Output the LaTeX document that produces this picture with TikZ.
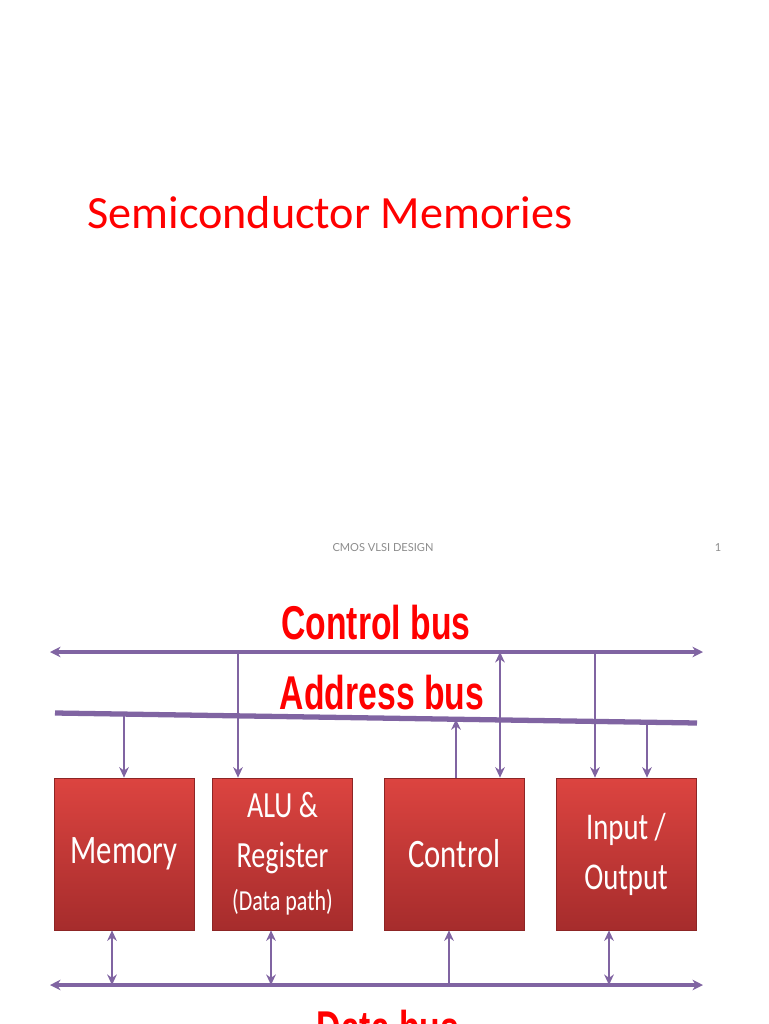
\documentclass[tikz,border=0pt]{standalone}
\usepackage{fontspec}
\setmainfont{Carlito}
\newfontfamily\busfont{Liberation Sans}
\newfontfamily\notefont{Lato}
\usetikzlibrary{arrows.meta,calc,positioning}
\definecolor{buspurple}{RGB}{128,100,162}
\definecolor{boxtop}{RGB}{220,68,64}
\definecolor{boxbot}{RGB}{166,44,44}
\newcommand{\narrow}[1]{\scalebox{0.76}[1]{#1}}
\newcommand{\busnarrow}[1]{\scalebox{0.71}[1]{#1}}
\tikzset{
  unit/.style={draw=boxbot!85!black,top color=boxtop,bottom color=boxbot,
    minimum width=2.8cm,minimum height=3.04cm,inner sep=0pt,text=white,align=center,
    font=\fontsize{23}{28.4}\selectfont},
  bus/.style={draw=buspurple,line width=1.8pt,{Stealth[length=6pt,width=6pt]}-{Stealth[length=6pt,width=6pt]}},
  tap/.style={draw=buspurple,line width=1.4pt,-{Stealth[length=6pt,width=5.5pt]}},
  tapboth/.style={tap,{Stealth[length=6pt,width=5.5pt]}-{Stealth[length=6pt,width=5.5pt]}},
  buslabel/.style={text=red,font=\busfont\bfseries\fontsize{27}{27}\selectfont},
}

\begin{document}
\begin{tikzpicture}[x=0.02cm,y=-0.02cm]
\useasboundingbox (0,0) rectangle (768,1024);
% title slide
\node[anchor=west,inner sep=0pt,text=red,font=\fontsize{26.3}{30}\selectfont] (title) at (87,213) {Semiconductor Memories};
\node[text=black!45,font=\notefont\fontsize{6.3}{8}\selectfont] (foot) at (383,548) {CMOS VLSI DESIGN};
\node[text=black!45,font=\notefont\fontsize{6.3}{8}\selectfont] (page) at (718,548) {1};

% buses
\coordinate (cb-l) at (50,652);  \coordinate (cb-r) at (703,652);
\coordinate (ab-l) at (55,713);  \coordinate (ab-r) at (697,723);
\coordinate (db-l) at (50,985);  \coordinate (db-r) at (703,985);
\draw[bus] (cb-l) -- (cb-r);
\draw[draw=buspurple,line width=3pt] (ab-l) -- (ab-r);
\draw[bus] (db-l) -- (db-r);
\node[buslabel] (cbus) at (376,623) {\busnarrow{Control bus}};
\node[buslabel] (abus) at (382,693) {\busnarrow{Address bus}};
\node[buslabel] (dbus) at (388,1028) {\busnarrow{Data bus}};

% units
\node[unit] (mem) at (124,854) {\raisebox{-3pt}{\narrow{Memory}}};
\node[unit,font=\fontsize{21}{28.4}\selectfont] (alu) at (282.5,854)
  {\narrow{ALU \&}\\\narrow{Register}\\[-4pt]
  {\fontsize{16.5}{20}\selectfont\narrow{(Data path)}}};
\node[unit] (ctl) at (454.5,854) {\raisebox{-3pt}{\narrow{Control}}};
\node[unit,font=\fontsize{21.5}{28.4}\selectfont] (io) at (626,854) {\narrow{Input /}\\\narrow{Output}};

% taps on the upper buses
\coordinate (ta1) at ($(ab-l)!0.1075!(ab-r)$);
\coordinate (ta2) at ($(ab-l)!0.6246!(ab-r)$);
\coordinate (ta3) at ($(ab-l)!0.9221!(ab-r)$);
\coordinate (tc1) at (238,652);
\coordinate (tc2) at (500,652);
\coordinate (tc3) at (595,652);
\draw[tap] (ta1) -- (ta1 |- mem.north);
\draw[tap] (tc1) -- (tc1 |- alu.north);
\draw[tap] (ta2 |- ctl.north) -- (ta2);
\draw[tapboth] (tc2) -- (tc2 |- ctl.north);
\draw[tap] (tc3) -- (tc3 |- io.north);
\draw[tap] (ta3) -- (ta3 |- io.north);

% taps on the data bus
\coordinate (td1) at (112,985);
\coordinate (td2) at (271,985);
\coordinate (td3) at (449,985);
\coordinate (td4) at (609,985);
\draw[tapboth] (td1) -- (td1 |- mem.south);
\draw[tapboth] (td2) -- (td2 |- alu.south);
\draw[tap] (td3) -- (td3 |- ctl.south);
\draw[tapboth] (td4) -- (td4 |- io.south);
\end{tikzpicture}
\end{document}
